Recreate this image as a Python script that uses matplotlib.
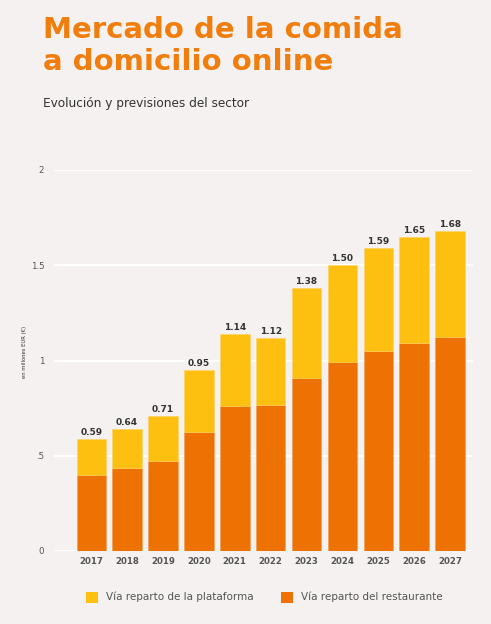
import matplotlib
matplotlib.use("Agg")
import matplotlib.pyplot as plt
from matplotlib.patches import Rectangle
import numpy as np

years = ["2017", "2018", "2019", "2020", "2021", "2022", "2023", "2024", "2025", "2026", "2027"]
totals = [0.59, 0.64, 0.71, 0.95, 1.14, 1.12, 1.38, 1.50, 1.59, 1.65, 1.68]
restaurante = [0.40, 0.435, 0.47, 0.625, 0.76, 0.765, 0.91, 0.99, 1.05, 1.09, 1.125]
plataforma = [t - r for t, r in zip(totals, restaurante)]
total_labels = ["0.59", "0.64", "0.71", "0.95", "1.14", "1.12", "1.38", "1.50", "1.59", "1.65", "1.68"]
yticks = [0, 0.5, 1, 1.5, 2]
ytick_labels = ["0", ".5", "1", "1.5", "2"]

BG = "#f4f1f0"
YELLOW = "#fdbf10"
ORANGE = "#ee7203"
TITLE_ORANGE = "#f07d0c"
DARK = "#333333"

fig = plt.figure(figsize=(4.91, 6.24), dpi=100, facecolor=BG)
ax = fig.add_axes([54 / 491, 73 / 624, (473 - 54) / 491, (551 - 170) / 624])
ax.set_facecolor(BG)

x = np.arange(len(years))
w = 0.82
ax.bar(x, restaurante, width=w, color=ORANGE, edgecolor="#f39a4a", linewidth=0.4, zorder=3)
ax.bar(x, plataforma, bottom=restaurante, width=w, color=YELLOW, edgecolor="#fdd460", linewidth=0.4, zorder=3)

for xi, t, lab in zip(x, totals, total_labels):
    ax.text(xi, t + 0.01, lab, ha="center", va="bottom", fontsize=6.5, fontweight="bold",
            color=DARK, zorder=4)

ax.set_xlim(-1.04, 10.64)
ax.set_ylim(0, 1.985)
ax.set_yticks(yticks)
ax.set_yticklabels(ytick_labels)
ax.set_xticks(x)
ax.set_xticklabels(years)
ax.tick_params(axis="both", length=0, labelsize=6.2, colors="#444444")
ax.tick_params(axis="y", pad=7)
ax.tick_params(axis="x", pad=4)
for lbl in ax.get_xticklabels():
    lbl.set_fontweight("bold")
    lbl.set_color("#555555")
for lbl in ax.get_yticklabels():
    lbl.set_color("#555555")
ax.grid(axis="y", color="white", linewidth=1.4, zorder=1)
for s in ax.spines.values():
    s.set_visible(False)
ax.set_ylabel("en millones EUR (€)", fontsize=3.8, color=DARK)
ax.yaxis.set_label_coords((27 - 54) / 419, (551 - 352) / 381)

# Title and subtitle
fig.text(43 / 491, 1 - 16 / 624, "Mercado de la comida\na domicilio online", ha="left", va="top",
         fontsize=21, fontweight="bold", color=TITLE_ORANGE, linespacing=1.2)
fig.text(43 / 491, 1 - 103 / 624, "Evolución y previsiones del sector", ha="left", va="center",
         fontsize=8.75, color=DARK)

# Legend
ly = 1 - 597 / 624
fig.patches.append(Rectangle((86 / 491, ly - 5.5 / 624), 12 / 491, 11 / 624, transform=fig.transFigure,
                             facecolor=YELLOW, edgecolor="none"))
fig.text(106 / 491, ly, "Vía reparto de la plataforma", ha="left", va="center", fontsize=7.5, color="#555555")
fig.patches.append(Rectangle((281 / 491, ly - 5.5 / 624), 12 / 491, 11 / 624, transform=fig.transFigure,
                             facecolor=ORANGE, edgecolor="none"))
fig.text(301 / 491, ly, "Vía reparto del restaurante", ha="left", va="center", fontsize=7.5, color="#555555")

fig.savefig("out.png", dpi=100, facecolor=BG)
